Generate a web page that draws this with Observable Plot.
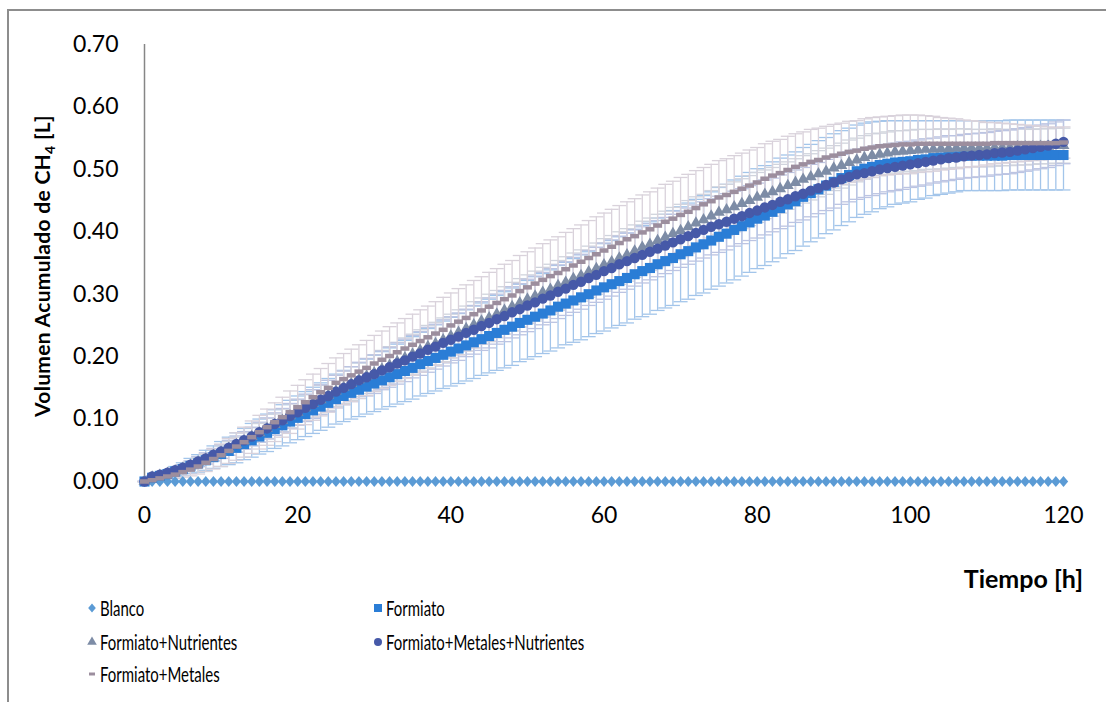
<!DOCTYPE html>
<html><head><meta charset="utf-8">
<script src="https://cdn.jsdelivr.net/npm/d3@7"></script>
<script src="https://cdn.jsdelivr.net/npm/@observablehq/plot@0.6"></script>
<style>
body{margin:0;background:#fff;}
#wrap{position:relative;width:1106px;height:702px;overflow:hidden;font-family:Lato,"Open Sans",sans-serif;color:#000;}
#frame{position:absolute;left:7px;top:9px;width:1200px;height:800px;border-left:2px solid #8d8d8d;border-top:2px solid #8d8d8d;}
#chart{position:absolute;left:0;top:0;}
.li{position:absolute;height:26px;white-space:nowrap;}
.li svg{position:absolute;left:0;top:0;}
.li span{position:absolute;top:0;font-size:22px;line-height:26px;transform:scaleX(0.68);transform-origin:0 50%;}
</style>
</head><body>
<div id="wrap"><div id="frame"></div><div id="chart"></div><div id="legend"></div></div>
<script>
const hours = [0,1,2,3,4,5,6,7,8,9,10,11,12,13,14,15,16,17,18,19,20,21,22,23,24,25,26,27,28,29,30,31,32,33,34,35,36,37,38,39,40,41,42,43,44,45,46,47,48,49,50,51,52,53,54,55,56,57,58,59,60,61,62,63,64,65,66,67,68,69,70,71,72,73,74,75,76,77,78,79,80,81,82,83,84,85,86,87,88,89,90,91,92,93,94,95,96,97,98,99,100,101,102,103,104,105,106,107,108,109,110,111,112,113,114,115,116,117,118,119,120];
const xTicks = [0,20,40,60,80,100,120];
const yTicks = [0,0.1,0.2,0.3,0.4,0.5,0.6,0.7];
const seriesNames = ["Blanco","Formiato","Formiato+Nutrientes","Formiato+Metales+Nutrientes","Formiato+Metales"];

const blanco = [0,0,0,0,0,0,0,0,0,0, 0,0,0,0,0,0,0,0,0,0, 0,0,0,0,0,0,0,0,0,0, 0,0,0,0,0,0,0,0,0,0, 0,0,0,0,0,0,0,0,0,0, 0,0,0,0,0,0,0,0,0,0, 0,0,0,0,0,0,0,0,0,0, 0,0,0,0,0,0,0,0,0,0, 0,0,0,0,0,0,0,0,0,0, 0,0,0,0,0,0,0,0,0,0, 0,0,0,0,0,0,0,0,0,0, 0,0,0,0,0,0,0,0,0,0, 0];

const formiato = [0.000,0.006,0.009,0.012,0.016,0.020,0.025,0.029,0.034,0.039,
0.044,0.049,0.054,0.060,0.066,0.072,0.078,0.084,0.090,0.096,
0.102,0.108,0.114,0.120,0.126,0.132,0.137,0.142,0.147,0.152,
0.157,0.162,0.167,0.172,0.177,0.182,0.188,0.193,0.198,0.203,
0.208,0.213,0.218,0.223,0.228,0.233,0.238,0.243,0.248,0.254,
0.259,0.264,0.269,0.274,0.280,0.285,0.290,0.295,0.300,0.306,
0.311,0.316,0.321,0.326,0.332,0.337,0.342,0.348,0.353,0.358,
0.364,0.369,0.375,0.380,0.386,0.392,0.397,0.403,0.409,0.415,
0.421,0.426,0.432,0.438,0.444,0.449,0.456,0.462,0.468,0.474,
0.480,0.486,0.491,0.497,0.501,0.504,0.507,0.509,0.511,0.512,
0.513,0.515,0.516,0.518,0.519,0.520,0.521,0.522,0.522,0.522,
0.522,0.522,0.522,0.523,0.523,0.523,0.523,0.523,0.523,0.523,0.523];

const formiatoNut = [0.000,0.007,0.010,0.013,0.017,0.021,0.026,0.031,0.036,0.042,
0.047,0.053,0.059,0.065,0.072,0.078,0.085,0.091,0.098,0.105,
0.111,0.118,0.125,0.131,0.138,0.145,0.151,0.157,0.163,0.169,
0.174,0.180,0.186,0.192,0.198,0.204,0.210,0.216,0.221,0.227,
0.233,0.239,0.245,0.251,0.257,0.262,0.268,0.274,0.280,0.286,
0.292,0.297,0.303,0.308,0.314,0.319,0.325,0.330,0.336,0.341,
0.347,0.352,0.358,0.363,0.369,0.375,0.380,0.386,0.391,0.397,
0.402,0.408,0.414,0.419,0.425,0.431,0.435,0.440,0.445,0.450,
0.455,0.460,0.464,0.469,0.474,0.479,0.484,0.488,0.493,0.497,
0.502,0.506,0.511,0.515,0.519,0.522,0.524,0.526,0.528,0.529,
0.530,0.531,0.532,0.532,0.533,0.533,0.534,0.534,0.534,0.534,
0.534,0.535,0.535,0.535,0.536,0.536,0.536,0.537,0.537,0.538,0.538];

const formiatoMetNut = [0.000,0.008,0.011,0.014,0.018,0.022,0.027,0.032,0.037,0.043,
0.048,0.054,0.060,0.066,0.072,0.079,0.085,0.092,0.098,0.105,
0.111,0.118,0.124,0.131,0.137,0.144,0.150,0.156,0.162,0.167,
0.172,0.178,0.183,0.189,0.194,0.200,0.205,0.211,0.216,0.222,
0.227,0.232,0.238,0.243,0.249,0.254,0.260,0.265,0.271,0.276,
0.282,0.287,0.293,0.298,0.304,0.309,0.315,0.320,0.326,0.331,
0.337,0.342,0.348,0.353,0.358,0.363,0.368,0.373,0.378,0.383,
0.388,0.393,0.398,0.403,0.408,0.412,0.416,0.421,0.425,0.430,
0.434,0.439,0.443,0.448,0.452,0.457,0.461,0.466,0.470,0.475,
0.479,0.484,0.488,0.492,0.494,0.497,0.500,0.502,0.504,0.506,
0.508,0.510,0.512,0.514,0.516,0.518,0.519,0.521,0.522,0.523,
0.524,0.526,0.527,0.528,0.530,0.532,0.534,0.536,0.538,0.541,0.544];

const formiatoMet = [0.000,0.002,0.005,0.008,0.011,0.015,0.019,0.024,0.030,0.036,
0.042,0.049,0.056,0.063,0.071,0.079,0.087,0.095,0.103,0.111,
0.119,0.127,0.135,0.143,0.150,0.158,0.164,0.170,0.176,0.182,
0.189,0.195,0.201,0.207,0.213,0.219,0.225,0.231,0.237,0.243,
0.250,0.256,0.262,0.268,0.274,0.280,0.286,0.292,0.298,0.305,
0.311,0.317,0.323,0.329,0.334,0.340,0.346,0.352,0.358,0.364,
0.370,0.376,0.382,0.388,0.393,0.399,0.404,0.410,0.416,0.421,
0.427,0.432,0.438,0.444,0.449,0.455,0.459,0.464,0.469,0.474,
0.479,0.485,0.490,0.494,0.499,0.504,0.508,0.512,0.515,0.519,
0.522,0.525,0.528,0.530,0.533,0.535,0.537,0.538,0.539,0.540,
0.540,0.541,0.541,0.541,0.541,0.541,0.541,0.541,0.541,0.541,
0.541,0.542,0.542,0.542,0.542,0.542,0.542,0.542,0.542,0.542,0.543];

// error half-widths (±)
const errFormiato = [0,0.002,0.004,0.006,0.008,0.010,0.012,0.014,0.016,0.018,
0.020,0.022,0.024,0.025,0.027,0.028,0.030,0.031,0.033,0.034,
0.035,0.036,0.037,0.038,0.039,0.040,0.041,0.042,0.043,0.044,
0.045,0.046,0.047,0.048,0.049,0.050,0.051,0.052,0.053,0.054,
0.055,0.056,0.057,0.058,0.058,0.059,0.060,0.061,0.062,0.062,
0.063,0.064,0.064,0.065,0.066,0.066,0.067,0.068,0.068,0.069,
0.070,0.070,0.071,0.072,0.072,0.073,0.074,0.074,0.075,0.076,
0.076,0.077,0.077,0.078,0.078,0.079,0.079,0.080,0.080,0.080,
0.080,0.080,0.080,0.080,0.079,0.079,0.079,0.078,0.078,0.077,
0.077,0.076,0.075,0.074,0.073,0.072,0.070,0.069,0.067,0.066,
0.065,0.063,0.062,0.060,0.059,0.058,0.057,0.056,0.056,0.056,
0.056,0.056,0.056,0.056,0.056,0.056,0.056,0.056,0.056,0.056,0.056];

const errFormiatoNut = [0,0.001,0.002,0.003,0.004,0.005,0.006,0.007,0.008,0.009,
0.010,0.011,0.012,0.013,0.014,0.015,0.016,0.017,0.018,0.019,
0.020,0.021,0.022,0.023,0.024,0.025,0.026,0.027,0.027,0.028,
0.029,0.030,0.030,0.031,0.032,0.032,0.033,0.034,0.034,0.035,
0.035,0.036,0.036,0.037,0.037,0.038,0.038,0.038,0.039,0.039,
0.039,0.040,0.040,0.040,0.040,0.041,0.041,0.041,0.041,0.041,
0.042,0.042,0.042,0.042,0.042,0.042,0.042,0.042,0.042,0.042,
0.042,0.042,0.042,0.041,0.041,0.041,0.041,0.040,0.040,0.040,
0.040,0.039,0.039,0.039,0.038,0.038,0.038,0.037,0.037,0.037,
0.036,0.036,0.036,0.035,0.035,0.035,0.034,0.034,0.034,0.033,
0.033,0.033,0.032,0.032,0.032,0.031,0.031,0.031,0.030,0.030,
0.030,0.030,0.029,0.029,0.029,0.029,0.028,0.028,0.028,0.028,0.028];

const errFormiatoMetNut = [0,0.001,0.002,0.003,0.004,0.005,0.006,0.008,0.009,0.010,
0.011,0.012,0.013,0.014,0.015,0.016,0.017,0.018,0.019,0.020,
0.021,0.022,0.023,0.024,0.025,0.026,0.027,0.028,0.029,0.030,
0.031,0.031,0.032,0.033,0.034,0.034,0.035,0.036,0.036,0.037,
0.037,0.038,0.038,0.039,0.039,0.040,0.040,0.041,0.041,0.041,
0.042,0.042,0.042,0.043,0.043,0.043,0.044,0.044,0.044,0.044,
0.045,0.045,0.045,0.045,0.045,0.045,0.045,0.045,0.045,0.045,
0.045,0.045,0.045,0.045,0.045,0.045,0.045,0.044,0.044,0.044,
0.044,0.044,0.043,0.043,0.043,0.042,0.042,0.042,0.041,0.041,
0.041,0.040,0.040,0.040,0.039,0.039,0.039,0.038,0.038,0.038,
0.037,0.037,0.037,0.036,0.036,0.036,0.035,0.035,0.035,0.035,
0.035,0.035,0.035,0.035,0.035,0.035,0.035,0.035,0.035,0.035,0.035];

const errFormiatoMet = [0,0.001,0.003,0.004,0.006,0.008,0.010,0.012,0.014,0.016,
0.018,0.020,0.022,0.024,0.026,0.027,0.029,0.031,0.032,0.034,
0.035,0.036,0.037,0.038,0.039,0.040,0.041,0.042,0.043,0.044,
0.045,0.046,0.047,0.047,0.048,0.049,0.050,0.050,0.051,0.052,
0.052,0.053,0.053,0.054,0.054,0.055,0.055,0.056,0.056,0.057,
0.057,0.057,0.058,0.058,0.058,0.059,0.059,0.059,0.060,0.060,
0.060,0.060,0.060,0.060,0.060,0.060,0.060,0.060,0.060,0.060,
0.060,0.060,0.060,0.059,0.059,0.059,0.058,0.058,0.057,0.057,
0.056,0.056,0.055,0.054,0.054,0.053,0.052,0.052,0.051,0.050,
0.050,0.049,0.049,0.048,0.048,0.048,0.047,0.047,0.047,0.047,
0.047,0.046,0.045,0.044,0.042,0.041,0.040,0.038,0.037,0.036,
0.034,0.033,0.032,0.031,0.030,0.029,0.028,0.027,0.026,0.025,0.025];

const markerColors = ["#5b9bd5","#2a7dd6","#7d8ca6","#4659a8","#9c8e9e"];
const errColors = ["#a3c5ea","#d0d4dd","#bcc4e2","#d9d2db"];

// custom marker shapes
const diamondSym = {draw(ctx, size){const r=Math.sqrt(size/Math.PI);ctx.moveTo(0,-r);ctx.lineTo(r*0.85,0);ctx.lineTo(0,r);ctx.lineTo(-r*0.85,0);ctx.closePath();}};
const dashSym = {draw(ctx, size){const r=Math.sqrt(size/Math.PI);ctx.rect(-r,-r*0.5,2*r,r);}};
const capSym = {draw(ctx, size){const r=Math.sqrt(size/Math.PI);ctx.moveTo(-r,0);ctx.lineTo(r,0);}};

function rows(vals, errs){ return hours.map((h,i)=>({h, v: vals[i], e: errs ? errs[i] : 0})); }

const dBlanco = rows(blanco);
const dF = rows(formiato, errFormiato);
const dFN = rows(formiatoNut, errFormiatoNut);
const dFMN = rows(formiatoMetNut, errFormiatoMetNut);
const dFM = rows(formiatoMet, errFormiatoMet);

function errMarks(data, color){
  return [
    Plot.ruleX(data, {x:"h", y1: d=>d.v-d.e, y2: d=>d.v+d.e, stroke: color, strokeWidth: 1.3}),
    Plot.dot(data, {x:"h", y: d=>d.v+d.e, symbol: capSym, r: 7, stroke: color, fill: "none", strokeWidth: 1.3}),
    Plot.dot(data, {x:"h", y: d=>d.v-d.e, symbol: capSym, r: 7, stroke: color, fill: "none", strokeWidth: 1.3})
  ];
}

const chart = Plot.plot({
  width: 1106, height: 600,
  marginLeft: 144, marginRight: 43, marginTop: 44, marginBottom: 119,
  style: {fontFamily: "Lato, 'Open Sans', sans-serif", fontSize: "23px", color: "#000", background: "transparent", overflow: "visible"},
  x: {domain: [0, 120]},
  y: {domain: [0, 0.7]},
  marks: [
    Plot.axisX({ticks: xTicks, tickSize: 0, tickPadding: 25, label: null, tickFormat: d => String(d)}),
    Plot.axisY({ticks: yTicks, tickSize: 0, tickPadding: 26, label: null, tickFormat: d3.format(".2f")}),
    Plot.ruleX([0], {y1: 0, y2: 0.7, stroke: "#868686", strokeWidth: 1.5}),
    ...errMarks(dF, errColors[0]),
    ...errMarks(dFN, errColors[1]),
    ...errMarks(dFMN, errColors[2]),
    ...errMarks(dFM, errColors[3]),
    Plot.dot(dBlanco, {x:"h", y:"v", symbol: diamondSym, r: 5.5, fill: markerColors[0], stroke: "none"}),
    Plot.dot(dF, {x:"h", y:"v", symbol: "square", r: 5.7, fill: markerColors[1], stroke: "none"}),
    Plot.dot(dFN, {x:"h", y:"v", symbol: "triangle", r: 4.4, fill: markerColors[2], stroke: "none"}),
    Plot.dot(dFMN, {x:"h", y:"v", symbol: "circle", r: 5.2, fill: markerColors[3], stroke: "none"}),
    Plot.dot(dFM, {x:"h", y:"v", symbol: dashSym, r: 4.5, fill: markerColors[4], stroke: "none"})
  ]
});
document.getElementById("chart").appendChild(chart);

const svg = d3.select(chart);
const yt = svg.append("text").attr("transform","translate(50,266) rotate(-90)")
  .attr("text-anchor","middle").attr("font-weight","bold").attr("font-size",21).attr("letter-spacing","0.3px").attr("fill","#000");
yt.append("tspan").text("Volumen Acumulado de CH");
yt.append("tspan").attr("font-size",14).attr("dy",5).text("4");
yt.append("tspan").attr("dy",-5).text(" [L]");
svg.append("text").attr("x",1083).attr("y",588).attr("text-anchor","end")
  .attr("font-weight","bold").attr("font-size",25).attr("fill","#000").text("Tiempo [h]");

// legend
const legendPos = [[92,608],[378,608],[92,642],[378,642],[92,674]];
const legSyms = [d3.symbol(diamondSym, Math.PI*4.5*4.5)(), d3.symbol(d3.symbolSquare, 64)(), d3.symbol(d3.symbolTriangle, 40)(), d3.symbol(d3.symbolCircle, Math.PI*4*4)(), d3.symbol(dashSym, Math.PI*9)()];
const leg = d3.select("#legend");
seriesNames.forEach((name, i) => {
  const [cx, cy] = legendPos[i];
  const item = leg.append("div").attr("class","li").style("left",(cx-6)+"px").style("top",(cy-13)+"px");
  const s = item.append("svg").attr("width",12).attr("height",26);
  s.append("path").attr("transform","translate(6,13)").attr("d", legSyms[i]).attr("fill", markerColors[i]);
  item.append("span").style("left","14px").text(name);
});
</script>
</body></html>
